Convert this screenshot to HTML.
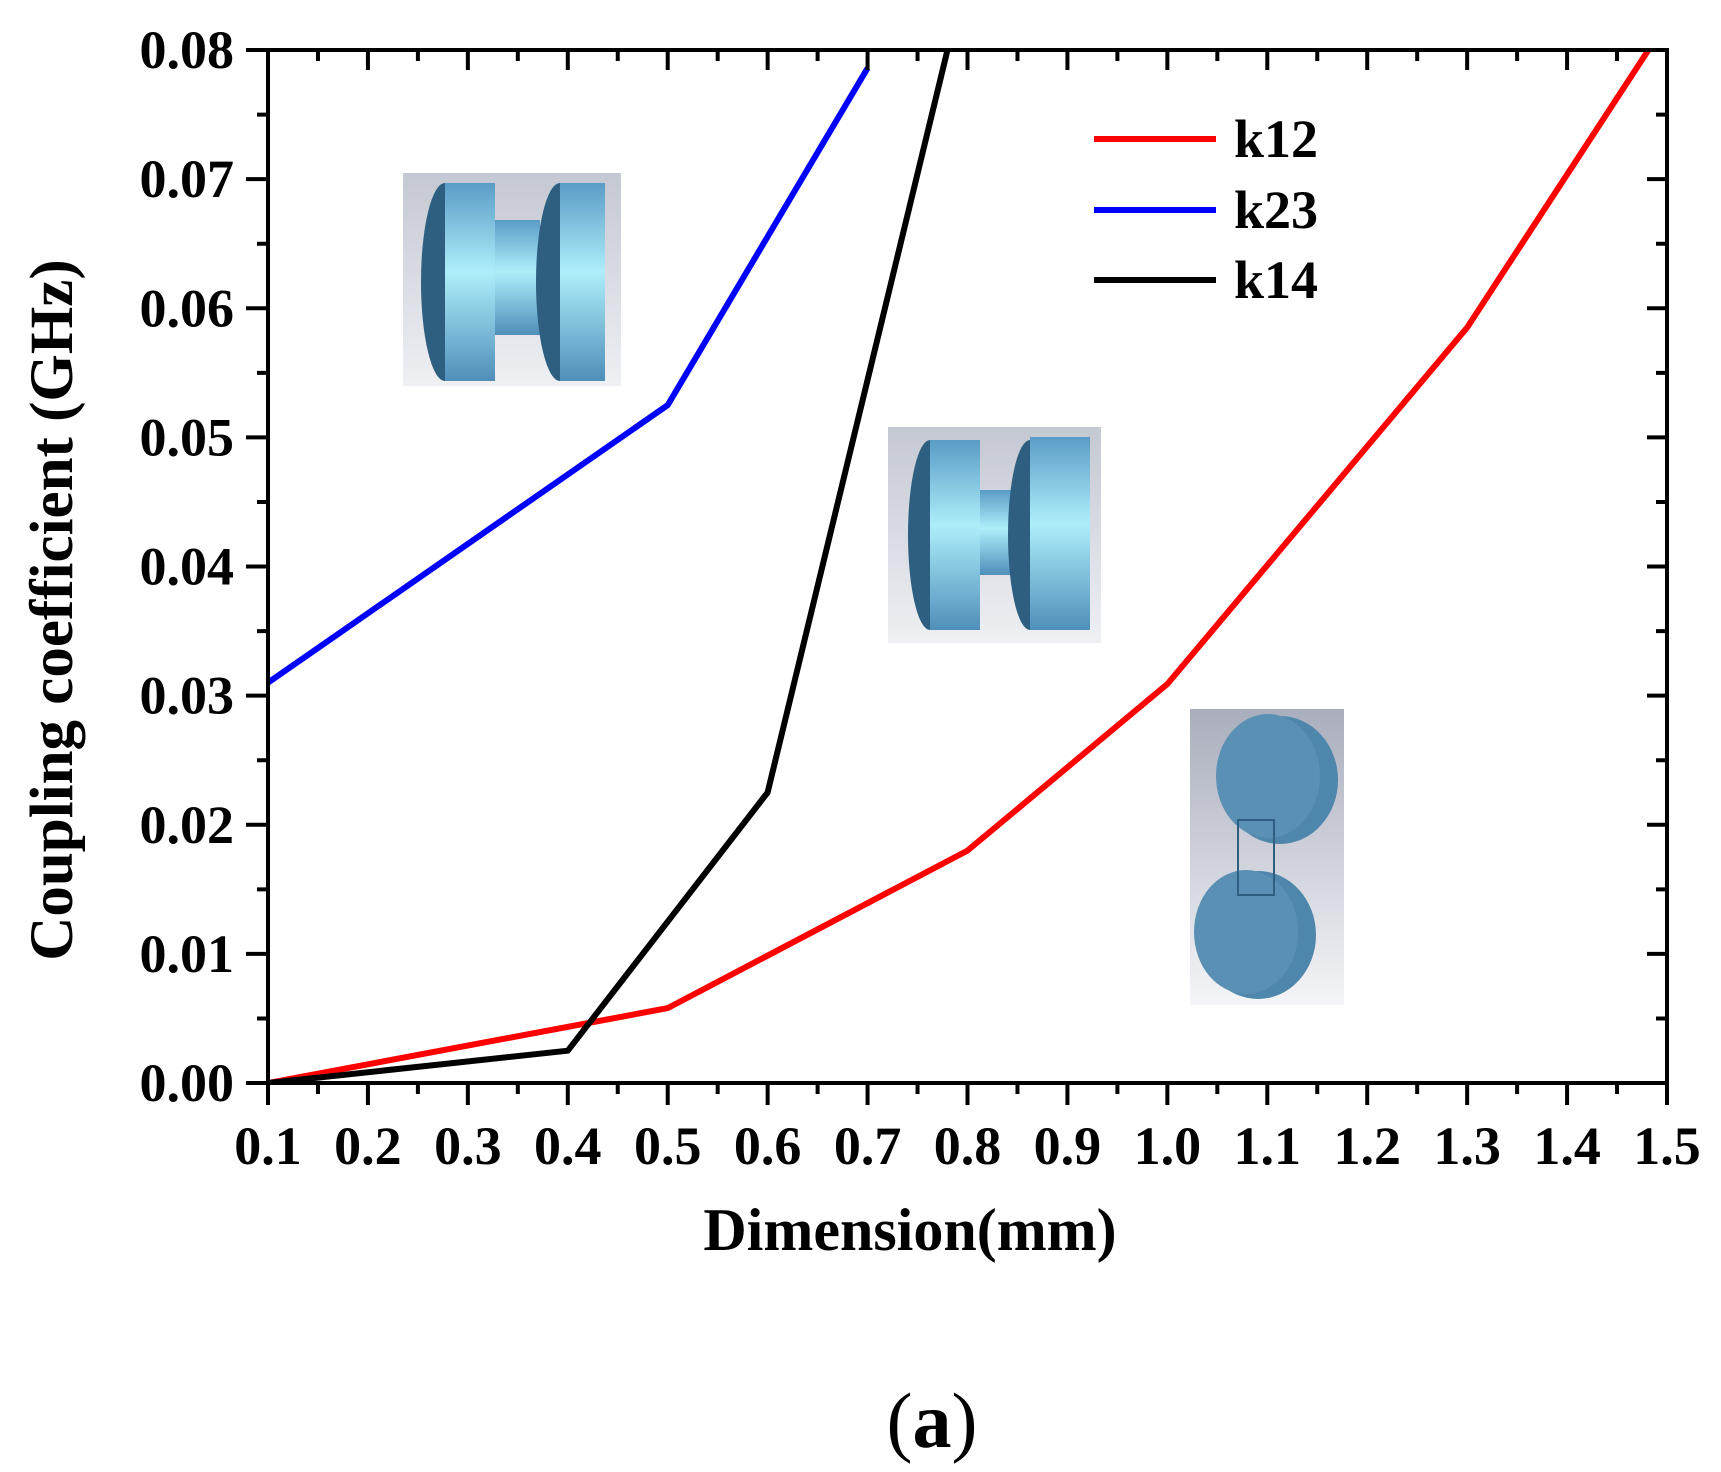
<!DOCTYPE html>
<html><head><meta charset="utf-8"><style>
html,body{margin:0;padding:0;background:#fff;}
svg{display:block;font-family:"Liberation Serif",serif;}
</style></head><body>
<svg id="chart" width="1721" height="1472" viewBox="0 0 1721 1472" xmlns="http://www.w3.org/2000/svg">
<defs>
<linearGradient id="bg1" x1="0" y1="0" x2="0" y2="1"><stop offset="0" stop-color="#c4c8d2"/><stop offset="1" stop-color="#eef0f4"/></linearGradient>
<linearGradient id="bg3" x1="0" y1="0" x2="0" y2="1"><stop offset="0" stop-color="#a9aebd"/><stop offset="1" stop-color="#f4f5f8"/></linearGradient>
<linearGradient id="cyl" x1="0" y1="0" x2="0" y2="1"><stop offset="0" stop-color="#5a9cc6"/><stop offset="0.45" stop-color="#aeeefa"/><stop offset="1" stop-color="#4f8fba"/></linearGradient>
<clipPath id="plotclip"><rect x="268" y="50" width="1399" height="1033"/></clipPath>
</defs>
<g id="insets">
 <g>
  <rect x="403" y="173" width="218" height="213" fill="url(#bg1)"/>
  <ellipse cx="445" cy="282" rx="24" ry="99" fill="#2f5f80"/>
  <rect x="445" y="183" width="50" height="198" fill="url(#cyl)"/>
  <rect x="495" y="220" width="45" height="115" fill="url(#cyl)"/>
  <ellipse cx="560" cy="282" rx="24" ry="99" fill="#2f5f80"/>
  <rect x="560" y="183" width="45" height="198" fill="url(#cyl)"/>
 </g>
 <g>
  <rect x="888" y="427" width="213" height="216" fill="url(#bg1)"/>
  <ellipse cx="930" cy="535" rx="22" ry="95" fill="#2f5f80"/>
  <rect x="930" y="440" width="50" height="190" fill="url(#cyl)"/>
  <rect x="980" y="490" width="40" height="85" fill="url(#cyl)"/>
  <ellipse cx="1030" cy="535" rx="22" ry="95" fill="#2f5f80"/>
  <rect x="1030" y="437" width="60" height="193" fill="url(#cyl)"/>
 </g>
 <g>
  <rect x="1190" y="709" width="154" height="296" fill="url(#bg3)"/>
  <ellipse cx="1280" cy="780" rx="58" ry="64" fill="#4f86ab"/>
  <ellipse cx="1268" cy="776" rx="52" ry="62" fill="#5b90b5"/>
  <ellipse cx="1258" cy="935" rx="58" ry="64" fill="#4f86ab"/>
  <ellipse cx="1246" cy="932" rx="52" ry="62" fill="#5b90b5"/>
  <rect x="1238" y="820" width="36" height="75" fill="none" stroke="#2f5f80" stroke-width="2"/>
 </g>
</g>
<g id="series" clip-path="url(#plotclip)"></g>
<g id="axes"></g>
<g font-weight="bold" font-size="54">
 <g><line x1="1094" y1="139" x2="1216" y2="139" stroke="#ff0000" stroke-width="6"/><text x="1234" y="157">k12</text></g>
 <g><line x1="1094" y1="210" x2="1216" y2="210" stroke="#0000ff" stroke-width="6"/><text x="1234" y="228">k23</text></g>
 <g><line x1="1094" y1="280" x2="1216" y2="280" stroke="#000000" stroke-width="6"/><text x="1234" y="298">k14</text></g>
</g>
<text transform="translate(72,610) rotate(-90)" text-anchor="middle" font-size="61" font-weight="bold">Coupling coefficient (GHz)</text>
<text x="910" y="1250" text-anchor="middle" font-size="60" font-weight="bold">Dimension(mm)</text>
<text x="932" y="1447" text-anchor="middle" font-size="78">(<tspan font-weight="bold">a</tspan>)</text>
</svg>
<script>
const xTicks = [0.1,0.2,0.3,0.4,0.5,0.6,0.7,0.8,0.9,1.0,1.1,1.2,1.3,1.4,1.5];
const yTicks = [0,0.01,0.02,0.03,0.04,0.05,0.06,0.07,0.08];
const k12X = [0.1,0.5,0.8,1.0,1.3,1.5];
const k12Y = [0,0.0058,0.018,0.0309,0.0585,0.0822];
const k23X = [0.1,0.5,0.7];
const k23Y = [0.031,0.0525,0.0786];
const k14X = [0.1,0.4,0.6,0.8];
const k14Y = [0,0.0025,0.0225,0.0864];

const L=268,R=1667,T=50,B=1083;
const xmin=0.1,xmax=1.5,ymin=0,ymax=0.08;
function sx(v){return L+(v-xmin)/(xmax-xmin)*(R-L);}
function sy(v){return B-(v-ymin)/(ymax-ymin)*(B-T);}
const NS='http://www.w3.org/2000/svg';
function mk(tag,attrs,parent){const e=document.createElementNS(NS,tag);for(const k in attrs)e.setAttribute(k,attrs[k]);parent.appendChild(e);return e;}
const series=document.getElementById('series');
function drawLine(xs,ys,color,name){
  const d=xs.map((x,i)=>(i?'L':'M')+sx(x).toFixed(1)+','+sy(ys[i]).toFixed(1)).join(' ');
  const p=mk('path',{d:d,fill:'none',stroke:color,'stroke-width':6,'stroke-linejoin':'round'},series);
  
  
}
drawLine(k12X,k12Y,'#ff0000','line-k12');
drawLine(k23X,k23Y,'#0000ff','line-k23');
drawLine(k14X,k14Y,'#000000','line-k14');

const axes=document.getElementById('axes');
const frame=mk('rect',{x:L,y:T,width:R-L,height:B-T,fill:'none',stroke:'#000','stroke-width':4},axes);


let tp='';
xTicks.forEach((v,i)=>{
  const x=sx(v);
  tp+=`M${x},${B}v22M${x},${T}v20`;
  if(i<xTicks.length-1){const xm=sx(v+0.05);tp+=`M${xm},${B}v11M${xm},${T}v11`;}
  const t=mk('text',{x:x,y:1164,'text-anchor':'middle','font-size':54,'font-weight':'bold'},axes);
  t.textContent=v.toFixed(1);
  
  
});
yTicks.forEach((v,i)=>{
  const y=sy(v);
  tp+=`M${L},${y}h-22M${R},${y}h-20`;
  if(i<yTicks.length-1){const ym=sy(v+0.005);tp+=`M${L},${ym}h-11M${R},${ym}h-11`;}
  const t=mk('text',{x:234,y:y+18,'text-anchor':'end','font-size':54,'font-weight':'bold'},axes);
  t.textContent=v.toFixed(2);
  
  
});
const ticks=mk('path',{d:tp,stroke:'#000','stroke-width':4,fill:'none'},axes);


</script>
</body></html>
